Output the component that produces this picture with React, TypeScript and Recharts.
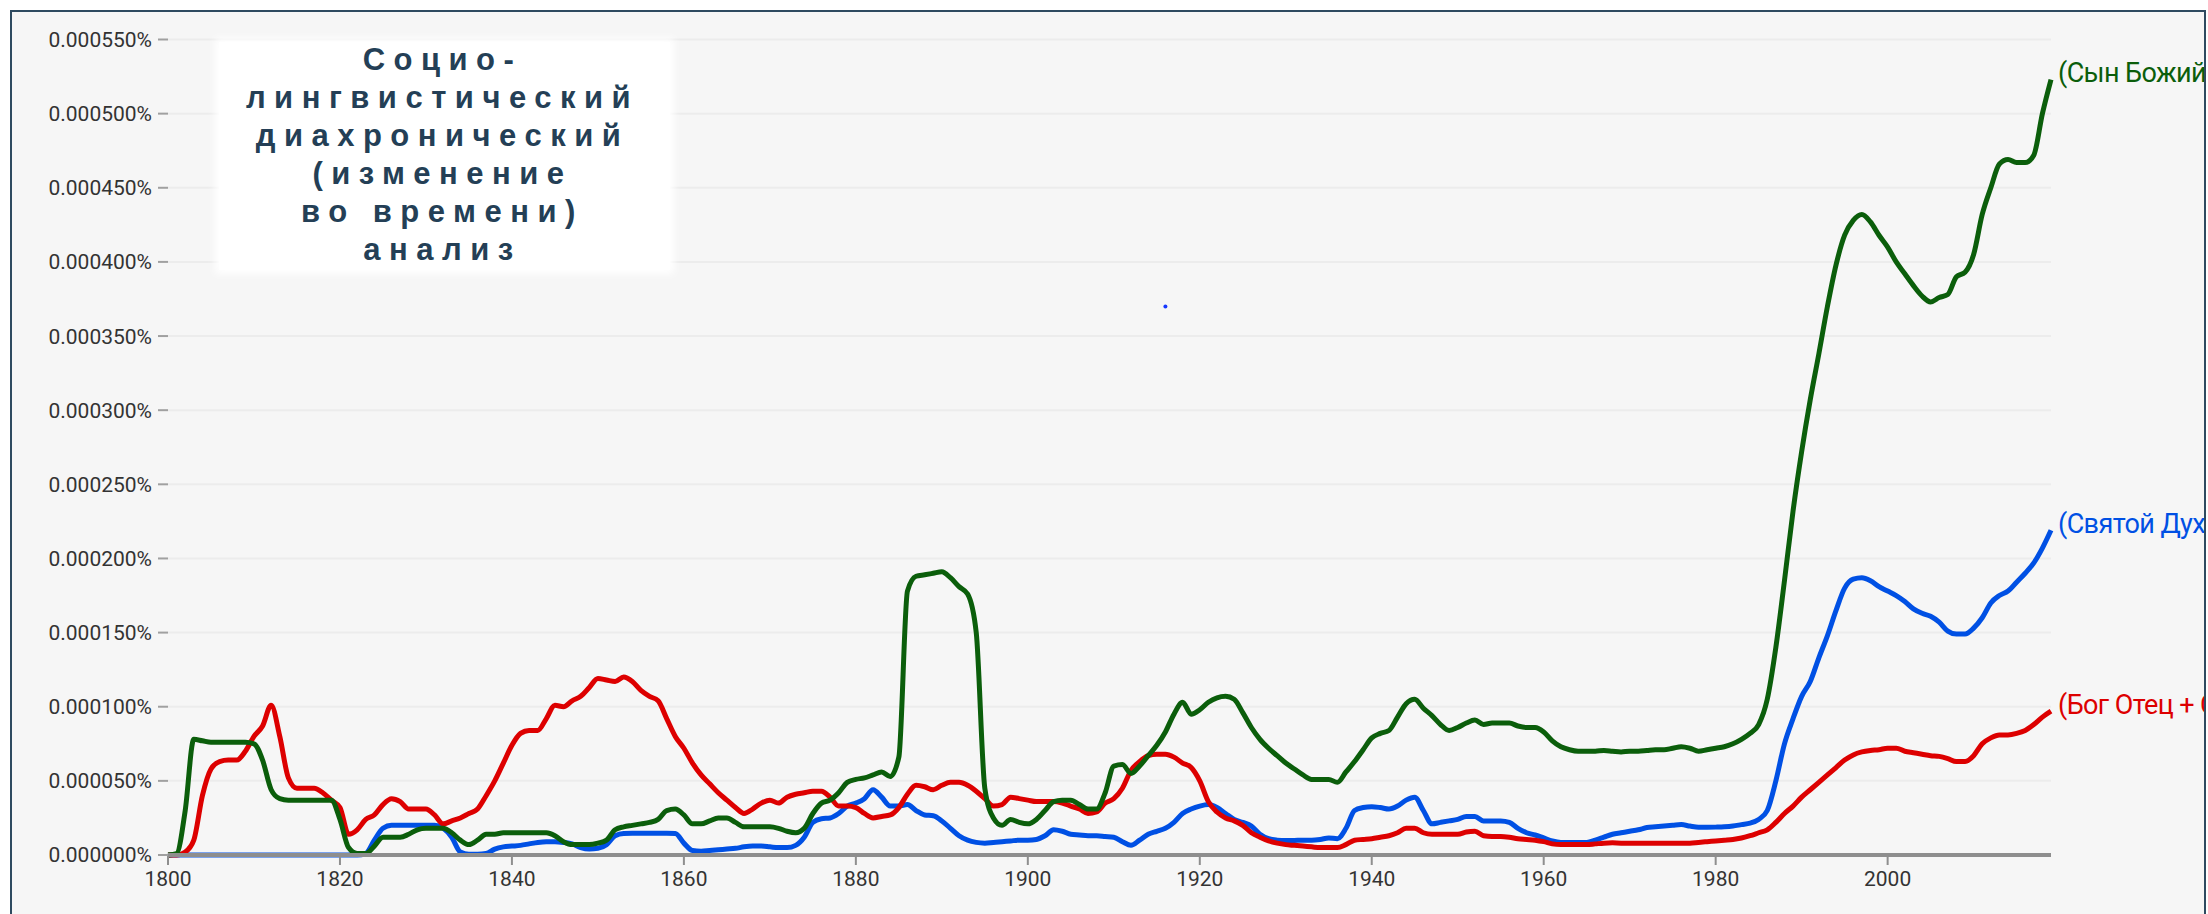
import { LineChart, Line, XAxis, YAxis, CartesianGrid, ReferenceDot } from 'recharts'

// values in millionths of a percent (50 -> 0.000050%)
const firstYear = 1800
const lastYear = 2019

const sonOfGod = [
  0, 1, 30, 78, 77, 76, 76, 76, 76, 76,
  75, 64, 44, 38, 37, 37, 37, 37, 37, 37,
  24, 5, 1, 1, 6, 12, 12, 12, 14, 17,
  18, 18, 18, 15, 10, 7, 10, 14, 14, 15,
  15, 15, 15, 15, 15, 13, 9, 7, 7, 7,
  8, 10, 17, 19, 20, 21, 22, 24, 30, 31,
  27, 21, 21, 23, 25, 25, 22, 19, 19, 19,
  19, 18, 16, 15, 18, 28, 35, 37, 42, 49,
  51, 52, 54, 56, 53, 66, 178, 188, 189, 190,
  191, 187, 181, 176, 150, 45, 25, 20, 24, 22,
  21, 24, 30, 36, 37, 37, 34, 31, 31, 42,
  60, 61, 55, 60, 67, 74, 83, 95, 103, 95,
  98, 103, 106, 107, 105, 96, 86, 78, 72, 67,
  62, 58, 54, 51, 51, 51, 49, 56, 63, 71,
  79, 82, 84, 93, 102, 105, 99, 94, 88, 84,
  86, 89, 91, 88, 89, 89, 89, 87, 86, 86,
  83, 77, 73, 71, 70, 70, 70, 70.5, 70, 69.5,
  70, 70, 70.5, 71, 71, 72, 73, 72, 70, 71,
  72, 73, 75, 78, 82, 88, 105, 140, 185, 232,
  272, 307, 338, 370, 398, 418, 428, 432, 427, 418,
  410, 400, 392, 384, 377, 373, 376, 378, 390, 393,
  405, 432, 450, 466, 469, 467, 467, 472, 500, 523,
]

const fatherPlus = [
  0, 0, 2, 10, 40, 58, 63, 64, 64, 70,
  80, 87, 101, 80, 52, 45, 45, 45, 42, 37,
  32, 14, 17, 24, 27, 34, 38, 36, 31, 31,
  31, 27, 21, 23, 25, 28, 31, 40, 50, 62,
  74, 82, 84, 84, 92, 101, 100, 104, 107, 113,
  119, 118, 117, 120, 117, 111, 107, 104, 92, 80,
  72, 62, 54, 48, 42, 37, 32, 28, 31, 35,
  37, 35, 39, 41, 42, 43, 43, 39, 33, 33,
  32, 28, 25, 26, 27, 32, 41, 47, 46, 44,
  47, 49, 49, 47, 43, 38, 33, 34, 39, 38,
  37, 36, 36, 36, 35, 33, 31, 28, 29, 35,
  38, 45, 57, 63, 67, 68, 68, 66, 62, 59,
  50, 36, 29, 25, 23, 20, 15, 12, 9.5, 8,
  7, 6.5, 6, 5.5, 5, 5, 5, 7, 10, 10.5,
  11, 12, 13, 15, 18, 18, 15, 14, 14, 14,
  14, 15.5, 16, 13, 12.5, 12.5, 12, 11, 10.5, 10,
  9, 7.5, 7, 7, 7, 7, 7.5, 8, 8.2, 8,
  8, 8, 8, 8, 8, 8, 8, 8, 8.5, 9,
  9.5, 10, 10.5, 11.5, 13, 15, 17, 22, 28, 33,
  39, 44, 49, 54, 59, 64, 67.5, 69.5, 70.5, 71,
  72, 72, 70, 69, 68, 67, 66.5, 65, 63, 63,
  67, 75, 79, 81, 81, 82, 84, 88, 93, 97,
]

const holySpirit = [
  0, 0, 0, 0, 0, 0, 0, 0, 0, 0,
  0, 0, 0, 0, 0, 0, 0, 0, 0, 0,
  0, 0, 0, 1, 10, 18, 20, 20, 20, 20,
  20, 20, 18, 12, 2, 0.5, 0.5, 1, 4, 5.5,
  6, 6.5, 7.5, 8.5, 9, 9, 8.5, 7.5, 5, 4,
  4.5, 7, 13, 14.5, 14.6, 14.6, 14.6, 14.6, 14.6, 14.5,
  8, 3, 2.5, 3, 3.5, 4, 4.5, 5.5, 6, 6,
  5.5, 5, 5, 6.5, 12, 22, 24.5, 25, 28, 33,
  35, 38, 44, 39, 33, 33, 34, 30, 27, 26.5,
  23, 18, 13, 10, 8.5, 8, 8.5, 9, 9.5, 10,
  10, 10.5, 13, 17, 16, 14, 13.5, 13, 13, 12.5,
  12, 9, 6.5, 10, 14, 16, 18, 22, 28, 31,
  33, 34, 32, 28, 24, 22, 19.5, 14, 11, 10,
  9.7, 9.8, 10, 10, 10.5, 11.5, 11, 18, 30, 32,
  32.6, 32, 31, 33, 37, 39, 30, 21, 22, 23,
  24, 26, 26, 23, 23, 23, 22, 18, 15, 13.5,
  11.5, 9.5, 8.5, 8.5, 8.5, 8.5, 10, 12, 14, 15,
  16, 17, 18.5, 19, 19.5, 20, 20.5, 19.5, 18.7, 18.7,
  18.8, 19, 19.5, 20.5, 21.5, 24, 30, 50, 75, 92,
  107, 117, 133, 148, 165, 180, 186, 187, 185, 181,
  178, 175, 171, 166, 163, 161, 157, 151, 149, 149,
  153, 160, 170, 175, 178, 184, 190, 197, 207, 219,
]

const xTicks = [1800, 1820, 1840, 1860, 1880, 1900, 1920, 1940, 1960, 1980, 2000]
const yTicks = [0, 50, 100, 150, 200, 250, 300, 350, 400, 450, 500, 550]

const series = [
  { key: 'holySpirit', name: '(Святой Дух)', color: '#0050e4' },
  { key: 'fatherPlus', name: '(Бог Отец + Сын Божий + Святой Дух)', color: '#dd0000' },
  { key: 'sonOfGod', name: '(Сын Божий)', color: '#0b5e0b' },
]

const titleLines = ['Социо-', 'лингвистический', 'диахронический', '(изменение', 'во времени)', 'анализ']

// stray blue pixel in the original screenshot
const strayDot = { year: 1916, value: 370 }

const years: number[] = []
for (let y = firstYear; y <= lastYear; y++) years.push(y)

const data = years.map((year, i) => ({
  year,
  sonOfGod: sonOfGod[i],
  fatherPlus: fatherPlus[i],
  holySpirit: holySpirit[i],
}))

const lastIndex = data.length - 1

function endLabel(name: string, color: string) {
  return (props: any) => {
    const { cx, cy, index } = props
    if (index !== lastIndex) return <g key={`d-${index}`} />
    return (
      <text
        key={`d-${index}`}
        x={cx + 7}
        y={cy - 7}
        dy="0.35em"
        fill={color}
        fontSize={27}
        letterSpacing={-0.6}
        fontFamily="Roboto, 'Noto Sans', sans-serif"
      >
        {name}
      </text>
    )
  }
}

export default function App() {
  return (
    <div style={{ position: 'relative', width: 2208, height: 914, overflow: 'hidden', background: '#fff' }}>
      <style>{'body{margin:0}'}</style>
      <div
        style={{
          position: 'absolute',
          left: 10,
          top: 10,
          width: 2196,
          height: 940,
          border: '2px solid #2e4a60',
          boxSizing: 'border-box',
          background: '#f6f6f6',
          overflow: 'hidden',
        }}
      >
        <div style={{ position: 'absolute', left: -12, top: -12, width: 2208, height: 914 }}>
          <LineChart
            width={2208}
            height={914}
            data={data}
            margin={{ top: 39.5, right: 157, bottom: 0, left: 0 }}
          >
            <CartesianGrid vertical={false} stroke="#ececec" strokeWidth={2} />
            <XAxis
              dataKey="year"
              type="number"
              domain={[firstYear, lastYear]}
              ticks={xTicks}
              height={59}
              axisLine={{ stroke: '#8e8e8e', strokeWidth: 4 }}
              tickLine={{ stroke: '#8e8e8e', strokeWidth: 2 }}
              tickSize={10}
              tickMargin={6}
              tick={{ fill: '#333', fontSize: 21, fontFamily: 'Roboto, sans-serif' }}
            />
            <YAxis
              domain={[0, 550]}
              ticks={yTicks}
              width={168}
              axisLine={false}
              tickLine={{ stroke: '#a0a0a0', strokeWidth: 2 }}
              tickSize={10}
              tickMargin={6}
              tick={{ fill: '#333', fontSize: 21, fontFamily: 'Roboto, sans-serif' }}
              tickFormatter={(v: number) => (v / 1e6).toFixed(6) + '%'}
            />
            {series.map((s) => (
              <Line
                key={s.key}
                dataKey={s.key}
                type="monotone"
                stroke={s.color}
                strokeWidth={5}
                dot={endLabel(s.name, s.color)}
                activeDot={false}
                isAnimationActive={false}
              />
            ))}
            <ReferenceDot x={strayDot.year} y={strayDot.value} r={2} fill="#1638ff" stroke="none" />
          </LineChart>
          <div
            style={{
              position: 'absolute',
              left: 219,
              top: 42,
              width: 451,
              height: 228,
              background: '#fff',
              boxShadow: '0 0 8px 4px #fff',
            }}
          />
          <div
            style={{
              position: 'absolute',
              left: 219,
              top: 41,
              width: 447,
              textAlign: 'center',
              fontFamily: "'Liberation Sans', Arial, sans-serif",
              fontWeight: 'bold',
              fontSize: 31,
              lineHeight: '38px',
              letterSpacing: 8.5,
              color: '#243f56',
              whiteSpace: 'nowrap',
            }}
          >
            {titleLines.map((t) => (
              <div key={t}>{t}</div>
            ))}
          </div>
        </div>
      </div>
    </div>
  )
}
